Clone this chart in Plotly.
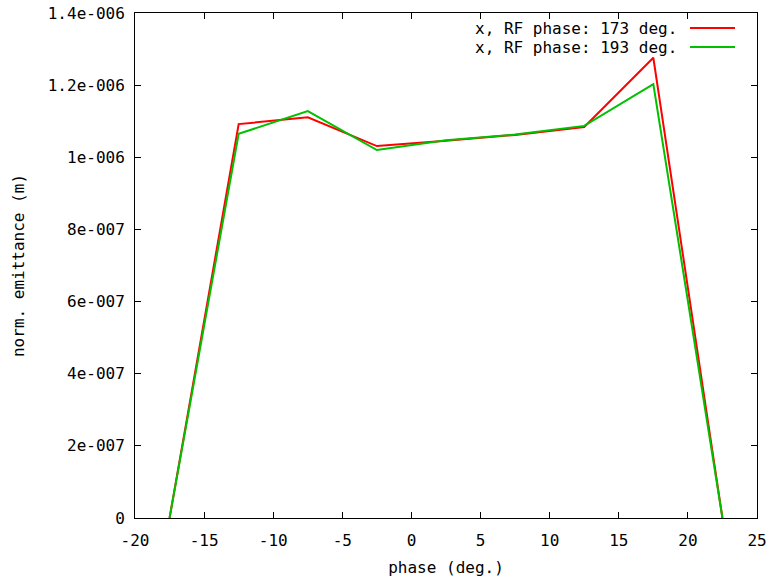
import plotly.graph_objects as go

phase = [-17.5, -12.5, -7.5, -2.5, 2.5, 7.5, 12.5, 17.5, 22.5]
emit_173 = [0.0, 1.092e-6, 1.111e-6, 1.031e-6, 1.046e-6, 1.062e-6, 1.084e-6, 1.276e-6, 0.0]
emit_193 = [0.0, 1.065e-6, 1.128e-6, 1.020e-6, 1.047e-6, 1.063e-6, 1.087e-6, 1.203e-6, 0.0]
series_names = ["x, RF phase: 173 deg.", "x, RF phase: 193 deg."]
series_colors = ["#ff0000", "#00c000"]

x_ticks = [-20, -15, -10, -5, 0, 5, 10, 15, 20, 25]
y_ticks = [0, 2e-7, 4e-7, 6e-7, 8e-7, 1e-6, 1.2e-6, 1.4e-6]
y_ticktext = ["0", "2e-007", "4e-007", "6e-007", "8e-007", "1e-006", "1.2e-006", "1.4e-006"]

FONT = "DejaVu Sans Mono"
FS = 16
PW = 622  # plot width px
PH = 505  # plot height px
fig = go.Figure()
for name, ys, col in zip(series_names, [emit_173, emit_193], series_colors):
    fig.add_trace(go.Scatter(x=phase, y=ys, mode="lines", name=name,
                             line=dict(color=col, width=2), showlegend=False))

# gnuplot-style legend: text right-aligned, sample line on the right
for i, (name, col) in enumerate(zip(series_names, series_colors)):
    ypos = 1 - (15 + 19 * i) / PH
    fig.add_annotation(x=(679 - 135) / PW, y=ypos, xref="paper", yref="paper",
                       text=name, showarrow=False, xanchor="right", yanchor="middle",
                       font=dict(family=FONT, size=FS, color="black"))
    fig.add_shape(type="line", xref="paper", yref="paper",
                  x0=(690 - 135) / PW, x1=(735 - 135) / PW, y0=ypos, y1=ypos,
                  line=dict(color=col, width=2))

axis_common = dict(showline=True, linecolor="black", linewidth=1, mirror="allticks",
                   ticks="inside", ticklen=6, tickcolor="black", showgrid=False,
                   zeroline=False, automargin=False, ticklabeloverflow="allow",
                   tickfont=dict(family=FONT, size=FS, color="black"))
fig.update_xaxes(range=[-20, 25], tickvals=x_ticks, ticktext=[str(v) for v in x_ticks],
                 title=dict(text="phase (deg.)", font=dict(family=FONT, size=FS, color="black"), standoff=12),
                 ticklabelstandoff=8, **axis_common)
fig.update_yaxes(range=[0, 1.4e-6], tickvals=y_ticks, ticktext=y_ticktext,
                 title=dict(text="norm. emittance (m)", font=dict(family=FONT, size=FS, color="black"), standoff=19),
                 ticklabelstandoff=6, **axis_common)
fig.update_layout(width=769, height=579, margin=dict(l=135, r=12, t=13, b=61),
                  plot_bgcolor="white", paper_bgcolor="white")
fig.write_html("out.html", config={"displayModeBar": False},
               post_script="document.body.style.margin='0';")
